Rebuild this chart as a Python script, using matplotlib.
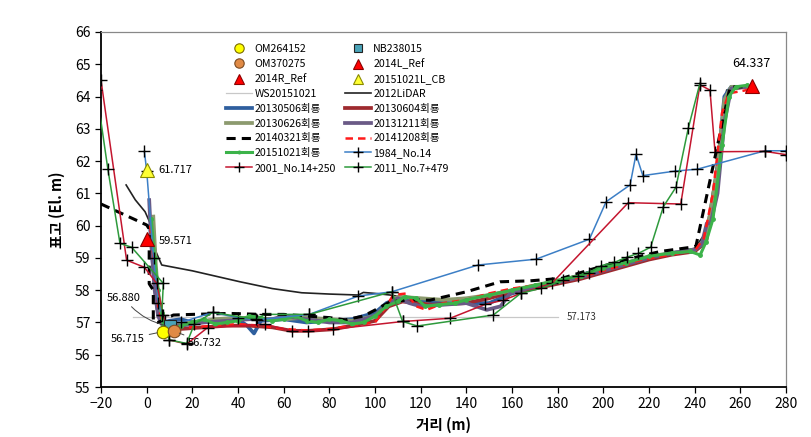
import matplotlib
matplotlib.use("Agg")
import matplotlib.pyplot as plt

plt.rcParams['font.family'] = ['Noto Sans CJK KR', 'DejaVu Sans']

# ---------------- data ----------------
# reference points
om264152 = (7.0, 56.715)
om370275 = (12.0, 56.732)
nb238015 = (10.0, 56.880)
ref2014L = (265.0, 64.337)
ref2014R = (0.0, 59.571)
cb20151021L = (0.0, 61.717)

ws_x = [-6, 180]
ws_y = [57.173, 57.173]

lidar_x = [-9, -5, -0.7, 2, 4, 6.6, 20, 40.9, 55, 67.9, 80, 92.7, 94.9, 100, 106.6, 118.3, 127,
           140, 160, 180, 200, 220, 240, 245, 250, 254, 260]
lidar_y = [61.26, 60.8, 60.43, 60.0, 59.2, 58.78, 58.6, 58.26, 58.05, 57.92, 57.88, 57.85, 57.93, 57.9, 57.85, 57.72, 57.64,
           57.75, 58.0, 58.3, 58.7, 59.0, 59.3, 59.8, 62.0, 64.2, 64.3]

s0506_x = [1.5, 3, 5, 7, 10, 15, 20, 30, 40, 44, 47, 50, 60, 70, 80, 90, 100, 105, 110, 120, 130, 150,
           160, 170, 180, 190, 200, 210, 220, 230, 240, 244, 248, 251, 253, 256, 262]
s0506_y = [60.0, 58.5, 57.3, 57.0, 57.05, 57.1, 57.0, 57.05, 57.1, 56.9, 56.66, 57.05, 57.1, 57.0, 57.05, 57.1, 57.3, 57.6, 57.75, 57.7, 57.6, 57.6,
           57.9, 58.1, 58.25, 58.45, 58.7, 58.85, 59.0, 59.15, 59.25, 59.5, 60.5, 62.5, 64.0, 64.3, 64.3]

s0604_x = [2, 3.5, 5.5, 8, 15, 25, 35, 45, 55, 63.5, 70.8, 81.7, 90, 100, 106, 112, 125, 140, 150,
           160, 170, 180, 190, 200, 210, 220, 230, 240, 245, 250, 253, 257, 262]
s0604_y = [60.1, 58.5, 57.2, 56.8, 56.8, 56.85, 56.9, 56.9, 56.85, 56.74, 56.74, 56.79, 56.9, 57.05, 57.5, 57.65, 57.55, 57.6, 57.75,
           57.95, 58.05, 58.2, 58.35, 58.55, 58.75, 58.95, 59.1, 59.2, 59.5, 61.5, 63.8, 64.25, 64.3]

s0626_x = [2.9, 4, 5.5, 7, 12, 20, 30, 40, 50, 60, 70, 80, 90, 100, 105, 110, 120, 130, 140, 150,
           160, 170, 180, 190, 200, 210, 220, 230, 240, 245, 250, 253, 256, 262]
s0626_y = [60.28, 58.8, 57.3, 57.0, 56.95, 57.0, 57.1, 57.15, 57.1, 57.1, 57.15, 57.1, 57.05, 57.2, 57.55, 57.8, 57.75, 57.7, 57.75, 57.85,
           58.0, 58.15, 58.3, 58.45, 58.65, 58.85, 59.05, 59.15, 59.25, 59.6, 61.8, 63.9, 64.3, 64.3]

s1211_x = [1.1, 2, 3.5, 5, 7, 15, 25, 35, 45, 55, 60, 70, 80, 90, 100, 106, 110, 115, 120, 130, 140, 148.9,
           155, 159.1, 170, 180, 190, 200, 210, 220, 230, 240, 243, 245.3, 247, 250, 253, 256, 262]
s1211_y = [60.79, 59.5, 58.0, 57.2, 56.9, 56.9, 57.0, 57.05, 57.1, 57.1, 57.2, 57.1, 57.0, 57.0, 57.2, 57.6, 57.75, 57.6, 57.5, 57.55, 57.6, 57.39,
           57.5, 57.9, 58.1, 58.25, 58.4, 58.6, 58.8, 59.0, 59.15, 59.25, 59.4, 60.07, 60.07, 61.0, 63.2, 64.25, 64.3]

s0321_x = [-20, 0, 1.1, 1.1, 2.9, 2.9, 5, 11.7, 20, 36.5, 50, 60, 70, 80, 87, 95, 100.7, 106.6, 115, 124, 140,
           154.8, 168, 182, 195, 210, 225, 240.5, 255.5, 262]
s0321_y = [60.67, 60.02, 59.9, 58.2, 58.0, 57.02, 57.0, 57.23, 57.25, 57.28, 57.25, 57.25, 57.2, 57.15, 57.08, 57.2, 57.41, 57.64, 57.7, 57.69, 57.95,
           58.26, 58.29, 58.37, 58.65, 58.95, 59.2, 59.35, 64.3, 64.3]

s1208_x = [1.5, 3, 4.4, 5, 7, 10, 20, 30, 40, 50, 60, 70, 80, 90, 100, 104, 108, 113.9, 118, 122.6, 130, 140, 150,
           160, 170, 180, 190, 200, 216, 240.2, 244, 248, 252, 255, 262.8, 265]
s1208_y = [60.0, 59.0, 58.52, 57.5, 57.0, 56.9, 56.85, 56.9, 56.95, 56.9, 56.8, 56.75, 56.8, 56.9, 57.0, 57.4, 57.85, 57.9, 57.5, 57.39, 57.6, 57.7, 57.9,
           58.05, 58.15, 58.25, 58.4, 58.6, 58.93, 59.24, 59.6, 61.0, 63.5, 64.1, 64.2, 64.3]

s1021_x = [2, 3.5, 5, 6.5, 7.3, 10, 15, 20, 25, 30, 35, 40, 45, 50, 55, 60, 65, 70, 75, 80, 85, 90, 95, 100,
           105, 110, 113, 118, 122, 128, 135, 140, 150, 160, 170, 180, 190, 200, 210, 220, 230, 238, 242.4,
           245, 248, 252, 255, 258, 263]
s1021_y = [60.2, 59.0, 58.0, 57.3, 56.9, 56.75, 56.9, 57.0, 57.1, 56.95, 57.0, 57.05, 57.2, 57.15, 57.05, 57.1, 57.2, 57.05, 57.0, 57.1, 57.05, 56.95, 57.0, 57.2,
           57.5, 57.65, 57.8, 57.75, 57.5, 57.55, 57.6, 57.7, 57.85, 58.0, 58.15, 58.3, 58.45, 58.7, 58.85, 59.05, 59.15, 59.2, 59.09,
           59.5, 60.2, 62.5, 64.0, 64.3, 64.35]

no14_1984_x = [-1, 0, 3, 5, 8, 15, 28.9, 40, 48.2, 71.2, 92.7, 107.3, 145.1, 170.5, 193.9, 201.2, 211.7, 214.3,
               217.3, 231.4, 241.2, 270.8, 280]
no14_1984_y = [62.3, 61.7, 59.0, 57.6, 57.05, 57.0, 57.31, 57.15, 57.08, 57.25, 57.82, 57.95, 58.78, 58.96, 59.58, 60.74, 61.26, 62.21,
               61.55, 61.69, 61.75, 62.32, 62.32]

no14_2001_x = [-20, -8.8, -1, 4.4, 7.3, 9.9, 17.5, 26.7, 51.8, 63.5, 70.8, 81.7, 112.1, 132.9, 148.2, 156.2,
               163.8, 177.4, 210.9, 233.9, 242.3, 246.7, 248.9, 270.8, 280]
no14_2001_y = [64.5, 58.93, 58.71, 58.21, 57.23, 56.46, 56.33, 56.84, 56.94, 56.74, 56.74, 56.79, 57.03, 57.13, 57.56, 57.69,
               57.9, 58.21, 60.71, 60.67, 64.36, 64.2, 62.29, 62.3, 62.2]

no7_2011_x = [-22, -17, -11.7, -6.6, 7.3, 6.6, 9.9, 17.5, 20.9, 28.9, 47.9, 51.8, 71.2, 107.3, 112.1, 118.5, 151.8,
              163.8, 172.7, 182.5, 188.8, 193.9, 199, 204.8, 210.2, 215.3, 220.7, 226.3, 231.8, 237.2, 242.3]
no7_2011_y = [64.2, 61.75, 59.45, 59.33, 58.21, 57.23, 56.46, 56.35, 56.95, 57.31, 57.1, 57.25, 57.25, 57.95, 57.03, 56.89, 57.23,
              57.9, 58.06, 58.31, 58.45, 58.54, 58.76, 58.86, 59.02, 59.14, 59.33, 60.59, 61.19, 63.02, 64.41]

x_ticks = list(range(-20, 281, 20))
y_ticks = list(range(55, 67))

# ---------------- figure ----------------
fig = plt.figure(figsize=(8.12, 4.37), dpi=100)
ax = fig.add_axes([0.1244, 0.1144, 0.8436, 0.8124])

thick = 2.7
h = {}
h['WS20151021'], = ax.plot(ws_x, ws_y, color='#c8c8c8', lw=0.9, zorder=2)
h['2012LiDAR'], = ax.plot(lidar_x, lidar_y, color='#222222', lw=1.2, zorder=3)
h['20130506회룡'], = ax.plot(s0506_x, s0506_y, color='#2f5f9e', lw=thick, zorder=4)
h['20130604회룡'], = ax.plot(s0604_x, s0604_y, color='#9e2a2f', lw=thick, zorder=4)
h['20130626회룡'], = ax.plot(s0626_x, s0626_y, color='#8c9a6e', lw=thick, zorder=4)
h['20131211회룡'], = ax.plot(s1211_x, s1211_y, color='#6a5a86', lw=thick, zorder=4)
h['20140321회룡'], = ax.plot(s0321_x, s0321_y, color='black', lw=2.2, ls=(0, (3, 2)), zorder=5)
h['20141208회룡'], = ax.plot(s1208_x, s1208_y, color='#ff1a1a', lw=1.8, ls=(0, (3, 2)), zorder=5)
h['20151021회룡'], = ax.plot(s1021_x, s1021_y, color='#3cb34a', lw=2.2, marker='o', ms=2.5, zorder=5)
pk = dict(marker='+', ms=9, mec='black', mew=1.0)
h['1984_No.14'], = ax.plot(no14_1984_x, no14_1984_y, color='#3c7fc6', lw=1.1, zorder=6, **pk)
h['2001_No.14+250'], = ax.plot(no14_2001_x, no14_2001_y, color='#c4162f', lw=1.1, zorder=6, **pk)
h['2011_No.7+479'], = ax.plot(no7_2011_x, no7_2011_y, color='#2e9a3c', lw=1.1, zorder=6, **pk)

h['OM264152'], = ax.plot([om264152[0]], [om264152[1]], ls='none', marker='o', ms=9,
                         mfc='#ffff00', mec='#7a6a00', mew=0.8, zorder=9)
h['OM370275'], = ax.plot([om370275[0]], [om370275[1]], ls='none', marker='o', ms=9,
                         mfc='#e08a45', mec='#7a4a20', mew=0.8, zorder=9)
h['NB238015'], = ax.plot([nb238015[0]], [nb238015[1]], ls='none', marker='s', ms=8,
                         mfc='#4aa3b8', mec='#222222', mew=0.8, zorder=8)
h['2014L_Ref'], = ax.plot([ref2014L[0]], [ref2014L[1]], ls='none', marker='^', ms=10,
                          mfc='#ff0000', mec='#8b0000', mew=0.8, zorder=9)
h['2014R_Ref'], = ax.plot([ref2014R[0]], [ref2014R[1]], ls='none', marker='^', ms=10,
                          mfc='#ff0000', mec='#8b0000', mew=0.8, zorder=9)
h['20151021L_CB'], = ax.plot([cb20151021L[0]], [cb20151021L[1]], ls='none', marker='^', ms=10,
                             mfc='#ffff33', mec='#8a8a00', mew=0.8, zorder=9)

# annotations
fs = 8
ax.text(cb20151021L[0] + 5.1, cb20151021L[1], f"{cb20151021L[1]:.3f}", fontsize=fs, va='center', ha='left')
ax.text(ref2014R[0] + 5.1, ref2014R[1] - 0.05, f"{ref2014R[1]:.3f}", fontsize=fs, va='center', ha='left')
ax.text(ref2014L[0], ref2014L[1] + 0.5, f"{ref2014L[1]:.3f}", fontsize=fs + 1, va='bottom', ha='center')
ax.text(ws_x[1] + 4, ws_y[0], f"{ws_y[0]:.3f}", fontsize=7, va='center', ha='left', color='#333333')
ax.annotate(f"{nb238015[1]:.3f}", xy=nb238015, xytext=(-2.5, 57.76), fontsize=fs, ha='right', va='center',
            arrowprops=dict(arrowstyle='-', color='#444444', lw=0.7, shrinkA=1, shrinkB=3,
                            connectionstyle='arc3,rad=0.2'), zorder=10)
ax.annotate(f"{om264152[1]:.3f}", xy=om264152, xytext=(-0.7, 56.49), fontsize=fs, ha='right', va='center',
            arrowprops=dict(arrowstyle='-', color='#444444', lw=0.7, shrinkA=1, shrinkB=4), zorder=10)
ax.annotate(f"{om370275[1]:.3f}", xy=om370275, xytext=(18.1, 56.36), fontsize=fs, ha='left', va='center',
            arrowprops=dict(arrowstyle='-', color='#444444', lw=0.7, shrinkA=1, shrinkB=4), zorder=10)

ax.set_xlim(-20, 280)
ax.set_ylim(55, 66)
ax.set_xticks(x_ticks)
ax.set_yticks(y_ticks)
ax.tick_params(axis='both', direction='out', length=4, width=0.9, labelsize=10, colors='black')
for s in ['left', 'bottom']:
    ax.spines[s].set_color('black')
    ax.spines[s].set_linewidth(1.3)
for s in ['top', 'right']:
    ax.spines[s].set_color('#888888')
    ax.spines[s].set_linewidth(0.9)

ax.set_ylabel('표고 (El. m)', fontsize=10.5, fontweight='bold', labelpad=7)
ax.set_xlabel('거리 (m)', fontsize=10.5, fontweight='bold', labelpad=4)

order = ['OM264152', 'OM370275', '2014R_Ref', 'WS20151021', '20130506회룡', '20130626회룡',
         '20140321회룡', '20151021회룡', '2001_No.14+250',
         'NB238015', '2014L_Ref', '20151021L_CB', '2012LiDAR', '20130604회룡', '20131211회룡',
         '20141208회룡', '1984_No.14', '2011_No.7+479']
leg = ax.legend([h[k] for k in order], order, ncol=2, loc='upper left', bbox_to_anchor=(0.177, 0.978),
                frameon=False, fontsize=7.6, handlelength=2.4, handletextpad=0.25, labelspacing=0.45,
                columnspacing=0.9, borderaxespad=0, markerscale=0.75)

fig.savefig('out.png', dpi=100)
